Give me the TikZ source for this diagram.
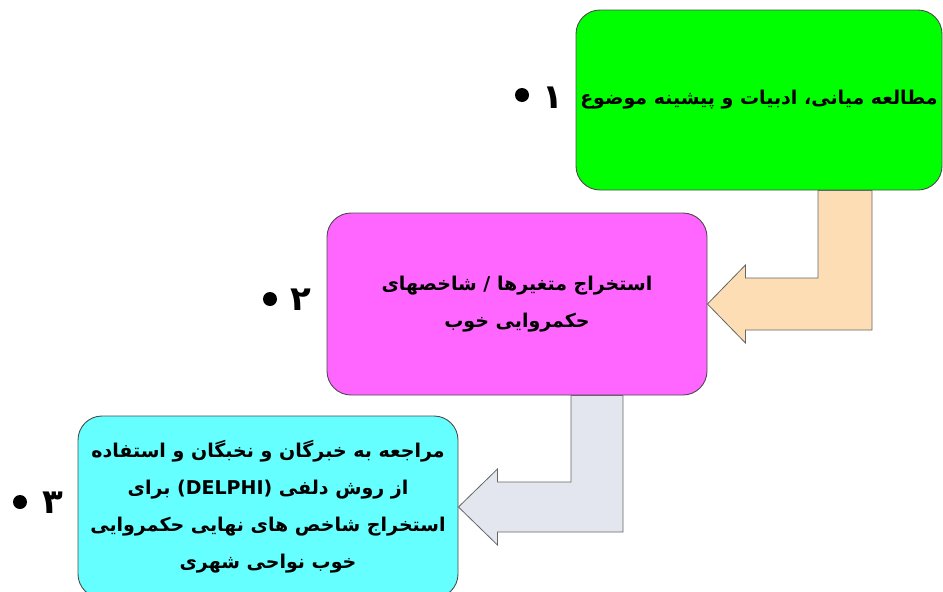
\documentclass[tikz,border=0pt]{standalone}
\usepackage{xcolor}
\usepackage{fontspec}
\usepackage{tikz}
\usetikzlibrary{shapes, arrows, calc}
\TeXXeTstate=1
\newfontfamily\arabicfont[Script=Arabic]{DejaVu Sans}
\definecolor{stagegreen}{HTML}{00FF00}
\definecolor{stagepink}{HTML}{FF66FF}
\definecolor{stagecyan}{HTML}{66FFFF}
\definecolor{bendpeach}{HTML}{FCDDB4}
\definecolor{bendgrey}{HTML}{E3E6EF}

\begin{document}
\begin{tikzpicture}[x=1pt,y=-1pt]
            \tikzstyle{stage}=[rectangle, rounded corners=24pt, draw=black!70, line width=0.9pt, minimum width=380pt, minimum height=182pt, align=center, font=\arabicfont\bfseries\fontsize{19}{37}\selectfont]
            \tikzstyle{bentarrow}=[draw=black!60, line width=0.8pt]
            \tikzstyle{num}=[font=\arabicfont\bfseries\fontsize{34}{34}\selectfont, inner sep=0pt]
            \tikzstyle{dot}=[circle, fill=black, inner sep=0pt, minimum size=14pt]
            \useasboundingbox (0,0) rectangle (943,592);
            \node[stage, fill=stagegreen, minimum width=366pt, minimum height=180pt] (box1) at (759,100) {\beginR مطالعه میانی، ادبیات و پیشینه موضوع\endR};
            \node[stage, fill=stagepink] (box2) at (517,304) {\beginR استخراج متغیرها / شاخصهای\endR\\ \beginR حکمروایی خوب\endR};
            \node[stage, fill=stagecyan] (box3) at (268,507) {\beginR مراجعه به خبرگان و نخبگان و استفاده\endR\\ \beginR از روش دلفی \beginL(DELPHI)\endL{} برای\endR\\ \beginR استخراج شاخص های نهایی حکمروایی\endR\\ \beginR خوب نواحی شهری\endR};
            % bent arrows
            \coordinate (s1) at ($(box1.south)+(59,0)$);
            \draw[bentarrow, fill=bendpeach] (s1) -- ++(54,0) |- ($(box2.east)+(38,26)$) -- ++(0,13) -- (box2.east) -- ++(38,-39) -- ++(0,13) -| (s1) -- cycle;
            \coordinate (s2) at ($(box2.south)+(54,0)$);
            \draw[bentarrow, fill=bendgrey] (s2) -- ++(52,0) |- ($(box3.east)+(39,25)$) -- ++(0,13) -- (box3.east) -- ++(39,-38) -- ++(0,13) -| (s2) -- cycle;
            % numbers
            \node[dot] (dot1) at (522,95) {};
            \node[num] (num1) at (553,98) {۱};
            \node[dot] (dot2) at (270,299) {};
            \node[num] (num2) at (301,300) {۲};
            \node[dot] (dot3) at (20,502) {};
            \node[num] (num3) at (53,503) {۳};
\end{tikzpicture}
\end{document}
